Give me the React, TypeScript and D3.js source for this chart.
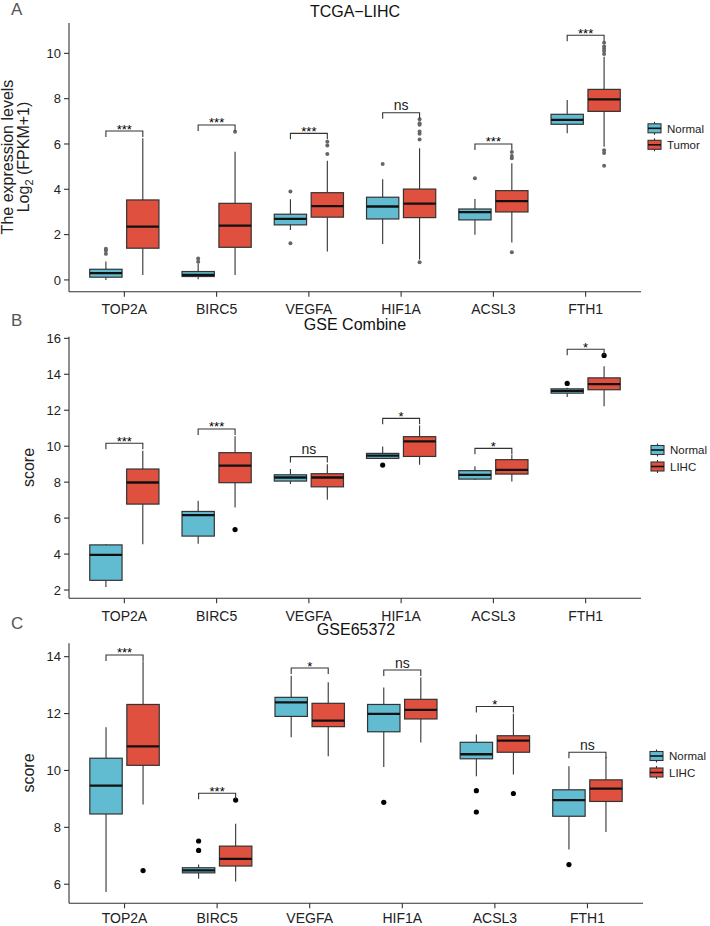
import React from "react";
import * as d3 from "d3";

const genes = ["TOP2A", "BIRC5", "VEGFA", "HIF1A", "ACSL3", "FTH1"];

// box stats: [lower whisker, q1, median, q3, upper whisker]
const normalA = [
  [0.0, 0.12, 0.3, 0.47, 0.81],
  [0.03, 0.15, 0.22, 0.37, 0.72],
  [2.2, 2.43, 2.69, 2.9, 3.56],
  [1.59, 2.69, 3.24, 3.65, 4.44],
  [1.99, 2.65, 2.99, 3.13, 3.57],
  [6.47, 6.87, 7.06, 7.31, 7.94],
];
const tumorA = [
  [0.22, 1.4, 2.35, 3.53, 6.25],
  [0.22, 1.44, 2.4, 3.38, 5.66],
  [1.25, 2.77, 3.26, 3.85, 5.26],
  [0.9, 2.75, 3.37, 4.01, 5.81],
  [1.65, 3.0, 3.48, 3.94, 5.15],
  [5.88, 7.44, 7.97, 8.41, 9.85],
];
const normalOutA = [[1.15, 1.3, 1.38], [0.8, 0.95], [3.9, 1.62], [5.12], [4.49], []];
const tumorOutA = [
  [],
  [6.54],
  [5.56, 5.93, 6.1],
  [6.2, 6.45, 6.55, 6.85, 6.92, 7.09, 0.78],
  [5.37, 5.47, 5.65, 1.22],
  [9.97, 10.1, 10.2, 10.3, 10.47, 5.72, 5.6, 5.04],
];
const bracketA = [6.57, 6.84, 6.47, 7.38, 6.0, 10.8];
const signifA = ["***", "***", "***", "ns", "***", "***"];
const ticksA = [0, 2, 4, 6, 8, 10];

const normalB = [
  [2.17, 2.54, 3.95, 4.51, 4.55],
  [4.58, 5.0, 6.17, 6.37, 6.96],
  [7.9, 8.06, 8.26, 8.41, 8.73],
  [9.32, 9.32, 9.47, 9.6, 9.98],
  [8.12, 8.17, 8.41, 8.64, 8.88],
  [12.73, 12.95, 13.08, 13.19, 13.25],
];
const tumorB = [
  [4.55, 6.78, 7.98, 8.73, 9.75],
  [6.59, 7.97, 8.92, 9.64, 10.55],
  [7.02, 7.74, 8.26, 8.47, 9.0],
  [8.97, 9.43, 10.27, 10.53, 11.15],
  [8.04, 8.45, 8.68, 9.25, 9.53],
  [12.22, 13.14, 13.45, 13.8, 14.45],
];
const normalOutB = [[], [], [], [8.95], [], [13.49]];
const tumorOutB = [[], [5.36], [], [], [], [15.05]];
const bracketB = [10.16, 10.96, 9.42, 11.55, 9.88, 15.39];
const signifB = ["***", "***", "ns", "*", "*", "*"];
const ticksB = [2, 4, 6, 8, 10, 12, 14, 16];

const normalC = [
  [5.73, 8.47, 9.47, 10.43, 11.52],
  [6.19, 6.4, 6.49, 6.58, 6.69],
  [11.17, 11.9, 12.39, 12.57, 13.33],
  [10.12, 11.36, 11.99, 12.32, 12.92],
  [9.8, 10.41, 10.57, 10.99, 11.26],
  [7.22, 8.39, 8.96, 9.32, 10.15],
];
const tumorC = [
  [8.8, 10.18, 10.85, 12.32, 13.84],
  [6.1, 6.64, 6.89, 7.34, 8.13],
  [10.5, 11.54, 11.75, 12.36, 13.1],
  [10.98, 11.81, 12.13, 12.5, 13.27],
  [9.86, 10.64, 11.05, 11.22, 11.99],
  [7.84, 8.91, 9.36, 9.67, 10.47],
];
const normalOutC = [[], [7.19, 7.52], [], [8.88], [9.29, 8.54], [6.69]];
const tumorOutC = [[6.48], [8.96], [], [], [9.19], []];
const bracketC = [14.06, 9.2, 13.6, 13.53, 12.25, 10.64];
const signifC = ["***", "***", "*", "ns", "*", "ns"];
const ticksC = [6, 8, 10, 12, 14];

const NORMAL_FILL = "#62BCD1";
const TUMOR_FILL = "#E0503E";
const FONT = "'Liberation Sans', Arial, Helvetica, sans-serif";
const DARK = "#333333";

type PanelProps = {
  letter: string;
  letterY: number;
  title: string;
  titleY: number;
  normal: number[][];
  tumor: number[][];
  normalOut: number[][];
  tumorOut: number[][];
  brackets: number[];
  signif: string[];
  ticks: number[];
  yDomain: [number, number];
  yRange: [number, number];
  xRight: number;
  groupLabels: [string, string];
  legendX: number;
  legendY: number;
  outColor: string;
  outR: number;
  xLabelOffset: number;
  yLabel: React.ReactNode;
};

function Panel(p: PanelProps) {
  const xLeft = 69;
  const x = d3.scalePoint<string>().domain(genes).range([xLeft, p.xRight]).padding(0.6);
  const step = x.step();
  const y = d3.scaleLinear().domain(p.yDomain).range(p.yRange);
  const off = 0.2 * step;
  const hw = 0.175 * step;
  const yBottom = p.yRange[0];
  const yTop = p.yRange[1];

  const drawBox = (s: number[], cx: number, fill: string, key: string) => {
    const [lo, q1, md, q3, hi] = s;
    return (
      <g key={key}>
        <line x1={cx} x2={cx} y1={y(hi)} y2={y(q3)} stroke={DARK} strokeWidth={1.1} />
        <line x1={cx} x2={cx} y1={y(q1)} y2={y(lo)} stroke={DARK} strokeWidth={1.1} />
        <rect x={cx - hw} y={y(q3)} width={2 * hw} height={Math.max(0.5, y(q1) - y(q3))} fill={fill} stroke={DARK} strokeWidth={1.2} />
        <line x1={cx - hw} x2={cx + hw} y1={y(md)} y2={y(md)} stroke="#111" strokeWidth={2.3} />
      </g>
    );
  };

  return (
    <g>
      <text x={11} y={p.letterY} fontSize={17} fill="#555" fontFamily={FONT}>{p.letter}</text>
      <text x={(xLeft + p.xRight) / 2} y={p.titleY} fontSize={16} textAnchor="middle" fill="#111" fontFamily={FONT}>{p.title}</text>
      <line x1={xLeft} x2={xLeft} y1={yTop} y2={yBottom} stroke={DARK} strokeWidth={1.1} />
      <line x1={xLeft} x2={p.xRight} y1={yBottom} y2={yBottom} stroke={DARK} strokeWidth={1.1} />
      {p.ticks.map((t) => (
        <g key={"yt" + t}>
          <line x1={xLeft - 5} x2={xLeft} y1={y(t)} y2={y(t)} stroke={DARK} strokeWidth={1.1} />
          <text x={xLeft - 8} y={y(t) + 4.6} fontSize={13} textAnchor="end" fill="#222" fontFamily={FONT}>{t}</text>
        </g>
      ))}
      {genes.map((g) => (
        <g key={"xt" + g}>
          <line x1={x(g)!} x2={x(g)!} y1={yBottom} y2={yBottom + 5} stroke={DARK} strokeWidth={1.1} />
          <text x={x(g)!} y={yBottom + p.xLabelOffset} fontSize={14} textAnchor="middle" fill="#222" fontFamily={FONT}>{g}</text>
        </g>
      ))}
      {p.yLabel}
      {genes.map((g, i) => {
        const cx = x(g)!;
        const by = y(p.brackets[i]);
        return (
          <g key={"b" + g}>
            {drawBox(p.normal[i], cx - off, NORMAL_FILL, "n")}
            {drawBox(p.tumor[i], cx + off, TUMOR_FILL, "t")}
            {p.normalOut[i].map((v, j) => (
              <circle key={"no" + j} cx={cx - off} cy={y(v)} r={p.outR} fill={p.outColor} />
            ))}
            {p.tumorOut[i].map((v, j) => (
              <circle key={"to" + j} cx={cx + off} cy={y(v)} r={p.outR} fill={p.outColor} />
            ))}
            <path
              d={`M${cx - off},${by + 6}V${by}H${cx + off}V${by + 6}`}
              fill="none"
              stroke={DARK}
              strokeWidth={1.1}
            />
            {p.signif[i] === "ns" ? (
              <text x={cx} y={by - 2.5} fontSize={14} textAnchor="middle" fill="#222" fontFamily={FONT}>ns</text>
            ) : (
              <text x={cx} y={by + 2.5} fontSize={13} textAnchor="middle" fill="#000" fontFamily={FONT}>{p.signif[i]}</text>
            )}
          </g>
        );
      })}
      {p.groupLabels.map((lab, k) => {
        const cy = p.legendY + k * 16.5;
        const kx = p.legendX;
        return (
          <g key={"lg" + k}>
            <line x1={kx + 6.5} x2={kx + 6.5} y1={cy - 6.5} y2={cy + 6.5} stroke={DARK} strokeWidth={1.1} />
            <rect x={kx} y={cy - 4.5} width={13} height={9} fill={k === 0 ? NORMAL_FILL : TUMOR_FILL} stroke={DARK} strokeWidth={1.1} />
            <line x1={kx} x2={kx + 13} y1={cy} y2={cy} stroke="#111" strokeWidth={1.6} />
            <text x={kx + 19} y={cy + 4.2} fontSize={11.5} fill="#222" fontFamily={FONT}>{lab}</text>
          </g>
        );
      })}
    </g>
  );
}

export default function App() {
  const labelA = (
    <g>
      <text transform="translate(13,157) rotate(-90)" fontSize={16} textAnchor="middle" fill="#222" fontFamily={FONT}>
        The expression levels
      </text>
      <text transform="translate(29,157) rotate(-90)" fontSize={16} textAnchor="middle" fill="#222" fontFamily={FONT}>
        Log<tspan fontSize={11} dy={4}>2</tspan><tspan dy={-4}> (FPKM+1)</tspan>
      </text>
    </g>
  );
  const labelB = (
    <text transform="translate(34,467.5) rotate(-90)" fontSize={16} textAnchor="middle" fill="#222" fontFamily={FONT}>score</text>
  );
  const labelC = (
    <text transform="translate(34,773) rotate(-90)" fontSize={16} textAnchor="middle" fill="#222" fontFamily={FONT}>score</text>
  );
  return (
    <svg width={710} height={926} style={{ position: "absolute", left: 0, top: 0, background: "#fff" }}>
      <rect width={710} height={926} fill="#fff" />
      <Panel
        letter="A" letterY={15} title="TCGA−LIHC" titleY={17.3}
        normal={normalA} tumor={tumorA} normalOut={normalOutA} tumorOut={tumorOutA}
        brackets={bracketA} signif={signifA} ticks={ticksA}
        yDomain={[-0.52, 11.34]} yRange={[291.7, 23]} xRight={641}
        groupLabels={["Normal", "Tumor"]} legendX={648} legendY={128.3}
        outColor="#666" outR={2} xLabelOffset={22.3} yLabel={labelA}
      />
      <Panel
        letter="B" letterY={326} title="GSE Combine" titleY={330}
        normal={normalB} tumor={tumorB} normalOut={normalOutB} tumorOut={tumorOutB}
        brackets={bracketB} signif={signifB} ticks={ticksB}
        yDomain={[1.54, 16.09]} yRange={[598.3, 336.7]} xRight={641}
        groupLabels={["Normal", "LIHC"]} legendX={651} legendY={450}
        outColor="#000" outR={2.6} xLabelOffset={22.3} yLabel={labelB}
      />
      <Panel
        letter="C" letterY={629} title="GSE65372" titleY={635}
        normal={normalC} tumor={tumorC} normalOut={normalOutC} tumorOut={tumorOutC}
        brackets={bracketC} signif={signifC} ticks={ticksC}
        yDomain={[5.33, 14.47]} yRange={[903.3, 643.3]} xRight={643}
        groupLabels={["Normal", "LIHC"]} legendX={650} legendY={756}
        outColor="#000" outR={2.6} xLabelOffset={19.8} yLabel={labelC}
      />
    </svg>
  );
}
